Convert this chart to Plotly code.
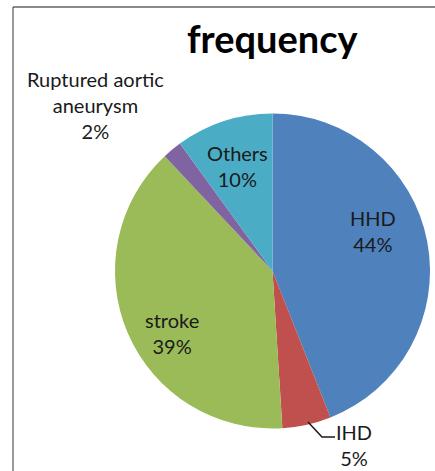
import plotly.graph_objects as go

# ---- data ----
categories = ["HHD", "IHD", "stroke", "Ruptured aortic aneurysm", "Others"]
display_labels = ["HHD", "IHD", "stroke", "Ruptured aortic<br>aneurysm", "Others"]
values = [44, 5, 39, 2, 10]
colors = ["#4F81BD", "#C0504D", "#9BBB59", "#8064A2", "#4BACC6"]
title_text = "frequency"

W, H = 435, 471
# label block centres in pixels (layout only)
label_pos = [(373, 231), (354, 445), (172, 333), (95, 105), (237, 166)]

def px(x):
    return x / W

def py(y):
    return 1 - y / H

cx, cy, r = 272.5, 271, 157.5

fig = go.Figure(go.Pie(
    labels=categories,
    values=values,
    sort=False,
    direction="clockwise",
    rotation=0,
    marker=dict(colors=colors, line=dict(width=0)),
    textinfo="none",
    hoverinfo="label+percent",
    showlegend=False,
    domain=dict(x=[px(cx - r), px(cx + r)], y=[py(cy + r), py(cy - r)]),
))

total = sum(values)
annotations = []
for lab, v, (x, y) in zip(display_labels, values, label_pos):
    annotations.append(dict(
        text=f"{lab}<br>{round(100 * v / total)}%",
        x=px(x), y=py(y), xref="paper", yref="paper",
        xanchor="center", yanchor="middle", showarrow=False,
        font=dict(family="Lato", size=20, color="#1a1a1a"),
    ))
annotations.append(dict(
    text=f"<b>{title_text}</b>", x=px(273), y=py(38), xref="paper", yref="paper",
    xanchor="center", yanchor="middle", showarrow=False,
    font=dict(family="Lato", size=38, color="#000000"),
))

shapes = [
    # frame lines
    dict(type="line", xref="paper", yref="paper", x0=px(13), x1=1, y0=py(7), y1=py(7),
         line=dict(color="#8a8a8a", width=2)),
    dict(type="line", xref="paper", yref="paper", x0=px(13), x1=px(13), y0=py(7), y1=0,
         line=dict(color="#555555", width=1.2)),
    # IHD leader line
    dict(type="path", xref="paper", yref="paper",
         path=f"M {px(308)} {py(422)} L {px(322)} {py(437)} L {px(335)} {py(437)}",
         line=dict(color="#1a1a1a", width=1.5)),
]

fig.update_layout(
    width=W, height=H,
    margin=dict(l=0, r=0, t=0, b=0),
    paper_bgcolor="white", plot_bgcolor="white",
    annotations=annotations,
    shapes=shapes,
)

fig.write_html("out.html", config={"displayModeBar": False},
               post_script="document.body.style.margin='0px';document.body.style.overflow='hidden';")
